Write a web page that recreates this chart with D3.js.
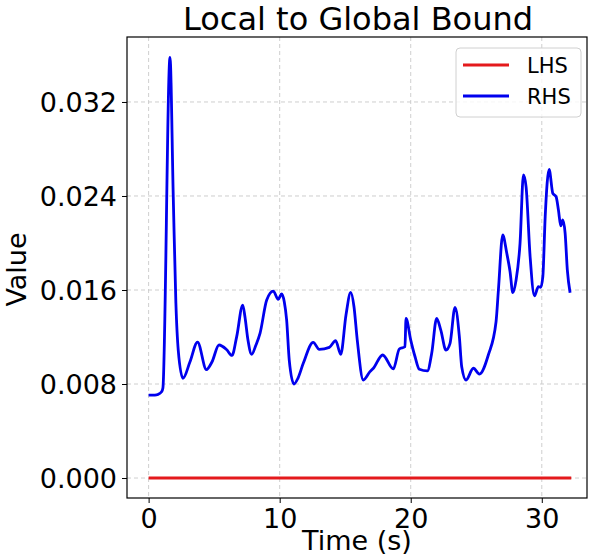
<!DOCTYPE html>
<html lang="en">
<head>
<meta charset="UTF-8">
<title>Local to Global Bound</title>
<script src="https://cdn.jsdelivr.net/npm/d3@7"></script>
<style>
  body { margin: 0; background: #fff; }
  text { font-family: "DejaVu Sans", sans-serif; }
</style>
</head>
<body>
<script>
// blue curve (RHS)
var rhsTime = [0, 0.48, 0.71, 0.99, 1.09, 1.63, 1.88, 2.08, 2.26, 2.62, 3.15, 3.73, 4.41, 4.83, 5.37, 5.94,
  6.36, 6.72, 7.18, 7.35, 7.58, 7.86, 8.19, 8.50, 9.01, 9.51, 9.89, 10.15, 10.35, 10.53, 10.73, 11.09,
  11.40, 11.80, 12.56, 13.02, 13.79, 14.27, 14.66, 15.06, 15.42, 15.67, 15.92, 16.38, 16.89, 17.15,
  17.86, 18.67, 19.13, 19.56, 19.64, 20.0, 20.33, 20.66, 21.27, 21.60, 21.98, 22.29, 22.69, 23.0,
  23.38, 23.71, 23.89, 24.22, 24.78, 25.24, 25.92, 26.51, 26.69, 27.02, 27.33, 27.58, 27.79, 28.04,
  28.34, 28.60, 28.80, 29.11, 29.44, 29.74, 29.92, 30.08, 30.26, 30.56, 30.84, 31.09, 31.27, 31.45,
  31.60, 31.78, 31.95, 32.16];
var rhsValue = [0.00706, 0.00706, 0.00711, 0.00734, 0.00766, 0.03580, 0.02394, 0.01489, 0.01089, 0.00849,
  0.00987, 0.01157, 0.00923, 0.00987, 0.01132, 0.01094, 0.01043, 0.01203, 0.01472, 0.01373, 0.01174,
  0.01053, 0.01132, 0.01231, 0.01515, 0.01591, 0.01521, 0.01566, 0.01500, 0.01345, 0.01004, 0.00800,
  0.00851, 0.00976, 0.01155, 0.01095, 0.01112, 0.01169, 0.01053, 0.01387, 0.01580, 0.01458, 0.01174,
  0.00834, 0.00905, 0.00934, 0.01047, 0.00928, 0.01098, 0.01117, 0.01359, 0.01174, 0.01032, 0.00925,
  0.00911, 0.01061, 0.01359, 0.01260, 0.01089, 0.01146, 0.01453, 0.01203, 0.00947, 0.00834, 0.00934,
  0.00885, 0.01047, 0.01330, 0.01600, 0.02068, 0.01912, 0.01756, 0.01577, 0.01685, 0.01997, 0.02579,
  0.02479, 0.01883, 0.01551, 0.01628, 0.01623, 0.01713, 0.02224, 0.02627, 0.02423, 0.02394, 0.02281,
  0.02145, 0.02196, 0.02083, 0.01770, 0.01577];
// red line (LHS)
var lhsTime = [0, 32.25];
var lhsValue = [0, 0];

var xTicks = [0, 10, 20, 30];
var yTicks = [0, 0.008, 0.016, 0.024, 0.032];
var seriesNames = ["LHS", "RHS"];
var seriesColors = ["#e41a1c", "#0000ee"];

var w = 596, h = 556;
var margin = {left: 127, top: 37, right: 9, bottom: 58};
var iw = w - margin.left - margin.right;
var ih = h - margin.top - margin.bottom;

var svg = d3.select("body").append("svg")
  .attr("width", w)
  .attr("height", h);

var xScale = d3.scaleLinear().domain([-1.65, 33.45]).range([0, iw]);
var yScale = d3.scaleLinear().domain([-0.0017, 0.03753]).range([ih, 0]);

var g = svg.append("g").attr("transform", "translate(" + margin.left + "," + margin.top + ")");

// grid
g.selectAll("line.gx").data(xTicks).enter().append("line")
  .attr("x1", function(d) { return xScale(d); })
  .attr("x2", function(d) { return xScale(d); })
  .attr("y1", 0).attr("y2", ih)
  .attr("stroke", "#c8c8c8").attr("stroke-width", 0.9).attr("stroke-dasharray", "4,3");
g.selectAll("line.gy").data(yTicks).enter().append("line")
  .attr("y1", function(d) { return yScale(d); })
  .attr("y2", function(d) { return yScale(d); })
  .attr("x1", 0).attr("x2", iw)
  .attr("stroke", "#c8c8c8").attr("stroke-width", 0.9).attr("stroke-dasharray", "4,3");

// axes
var xAxis = g.append("g")
  .attr("transform", "translate(0," + ih + ")")
  .call(d3.axisBottom(xScale).tickValues(xTicks).tickSize(5).tickPadding(5).tickFormat(d3.format("d")));
var yAxis = g.append("g")
  .call(d3.axisLeft(yScale).tickValues(yTicks).tickSize(5).tickPadding(5).tickFormat(d3.format(".3f")));
[xAxis, yAxis].forEach(function(a) {
  a.select(".domain").remove();
  a.selectAll("line").attr("stroke", "#000").attr("stroke-width", 1);
  a.selectAll("text").attr("fill", "#000").style("font-size", "27px")
    .style("font-family", "'DejaVu Sans', sans-serif");
});
yAxis.selectAll("text").attr("dy", "0.36em");
xAxis.selectAll("text").attr("dy", "0.74em");

// lines
var line = d3.line()
  .x(function(d) { return xScale(d[0]); })
  .y(function(d) { return yScale(d[1]); })
  .curve(d3.curveMonotoneX);

g.append("path")
  .datum(lhsTime.map(function(t, i) { return [t, lhsValue[i]]; }))
  .attr("d", line)
  .attr("fill", "none").attr("stroke", seriesColors[0]).attr("stroke-width", 3);

g.append("path")
  .datum(rhsTime.map(function(t, i) { return [t, rhsValue[i]]; }))
  .attr("d", line)
  .attr("fill", "none").attr("stroke", seriesColors[1]).attr("stroke-width", 2.8)
  .attr("stroke-linejoin", "round");

// frame
g.append("rect")
  .attr("width", iw).attr("height", ih)
  .attr("fill", "none").attr("stroke", "#000").attr("stroke-width", 1.2);

// title and labels
svg.append("text")
  .attr("x", margin.left + iw / 2 + 1).attr("y", 30)
  .attr("text-anchor", "middle").style("font-size", "32px")
  .text("Local to Global Bound");
svg.append("text")
  .attr("x", margin.left + iw / 2).attr("y", 550)
  .attr("text-anchor", "middle").style("font-size", "27px")
  .text("Time (s)");
svg.append("text")
  .attr("transform", "translate(26," + (margin.top + ih / 2 + 2) + ") rotate(-90)")
  .attr("text-anchor", "middle").style("font-size", "27px")
  .text("Value");

// legend
var leg = svg.append("g").attr("transform", "translate(456,48)");
leg.append("rect")
  .attr("width", 125).attr("height", 69).attr("rx", 4)
  .attr("fill", "#fff").attr("fill-opacity", 0.8)
  .attr("stroke", "#d0d0d0").attr("stroke-width", 1);
seriesNames.forEach(function(name, i) {
  var yy = 17 + i * 31;
  leg.append("line")
    .attr("x1", 7).attr("x2", 53).attr("y1", yy).attr("y2", yy)
    .attr("stroke", seriesColors[i]).attr("stroke-width", 3);
  leg.append("text")
    .attr("x", 71).attr("y", yy).attr("dy", "0.36em")
    .style("font-size", "21px")
    .text(name);
});
</script>
</body>
</html>
